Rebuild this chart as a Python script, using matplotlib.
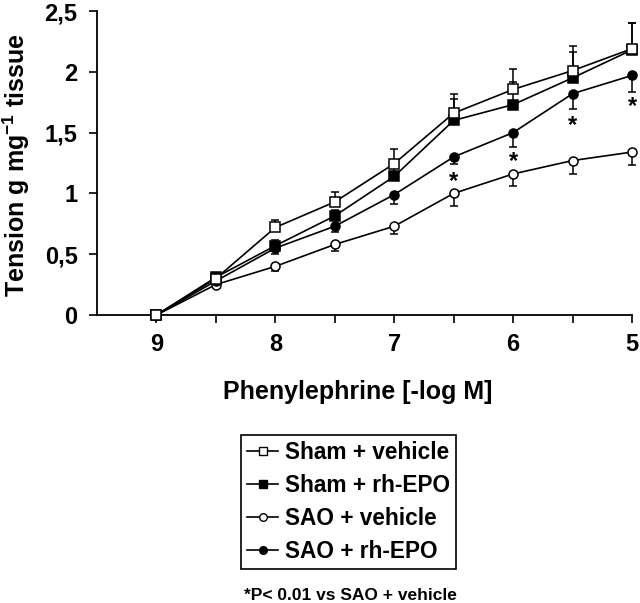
import matplotlib
matplotlib.use("Agg")
import matplotlib.pyplot as plt
from matplotlib.ticker import FixedLocator
from matplotlib.lines import Line2D

plt.rcParams['font.family'] = ['Liberation Sans', 'DejaVu Sans']
plt.rcParams['font.weight'] = 'bold'
plt.rcParams['mathtext.fontset'] = 'custom'
plt.rcParams['mathtext.rm'] = 'Liberation Sans:bold'
plt.rcParams['mathtext.bf'] = 'Liberation Sans:bold'
plt.rcParams['mathtext.default'] = 'rm'

# ---- data ----
conc = [9, 8.5, 8, 7.5, 7, 6.5, 6, 5.5, 5]
sham_veh = [0, 0.30, 0.72, 0.93, 1.245, 1.66, 1.855, 2.01, 2.19]
sham_veh_err = [0, 0.02, 0.065, 0.08, 0.12, 0.16, 0.17, 0.20, 0.21]
sham_epo = [0, 0.31, 0.57, 0.815, 1.14, 1.60, 1.73, 1.95, 2.18]
sham_epo_err = [0, 0.02, 0.05, 0.05, 0.07, 0.18, 0.185, 0.21, 0.22]
sao_veh = [0, 0.25, 0.40, 0.58, 0.73, 1.00, 1.16, 1.27, 1.34]
sao_veh_err = [0, 0.02, 0.035, 0.05, 0.06, 0.10, 0.10, 0.11, 0.11]
sao_epo = [0, 0.28, 0.55, 0.73, 0.99, 1.30, 1.50, 1.82, 1.97]
sao_epo_err = [0, 0.02, 0.05, 0.05, 0.08, 0.06, 0.12, 0.13, 0.14]
star_x = [6.5, 6, 5.5, 5]
star_y = [1.155, 1.32, 1.615, 1.77]

labels = ["Sham + vehicle", "Sham + rh-EPO", "SAO + vehicle", "SAO + rh-EPO"]
yticks = [0, 0.5, 1, 1.5, 2, 2.5]
yticklabels = ["0", "0,5", "1", "1,5", "2", "2,5"]
xticks_major = [9, 8, 7, 6, 5]
xticks_minor = [8.5, 7.5, 6.5, 5.5]

fig = plt.figure(figsize=(6.4, 6.03), dpi=100)
ax = fig.add_axes([97/640, 1 - 315/603, (632-97)/640, (315-11)/603])

lw = 1.2
common = dict(color='black', lw=lw, markeredgecolor='black', markeredgewidth=1.1,
              ms=6.5, capsize=3.2, elinewidth=1.1, capthick=1.1, clip_on=False)

zeros = [0]*len(conc)
ax.errorbar(conc, sao_veh, yerr=[sao_veh_err, zeros], marker='o',
            markerfacecolor='white', zorder=3, **common)
ax.errorbar(conc, sao_epo, yerr=[sao_epo_err, zeros], marker='o',
            markerfacecolor='black', zorder=4, **common)
ax.errorbar(conc, sham_epo, yerr=[zeros, sham_epo_err], marker='s',
            markerfacecolor='black', zorder=5, **common)
ax.errorbar(conc, sham_veh, yerr=[zeros, sham_veh_err], marker='s',
            markerfacecolor='white', zorder=6, **common)

fs_star = 17
for sx, sy in zip(star_x, star_y):
    ax.annotate('*', (sx, sy), xytext=(0, -0.57*fs_star), textcoords='offset points',
                ha='center', va='baseline', fontsize=fs_star, fontweight='bold')

ax.set_xlim(9.5, 5)
ax.set_ylim(0, 2.5)
ax.set_yticks(yticks)
ax.set_yticklabels(yticklabels)
ax.xaxis.set_major_locator(FixedLocator(xticks_major))
ax.xaxis.set_minor_locator(FixedLocator(xticks_minor))
ax.set_xticklabels([str(v) for v in xticks_major])

for s in ['top', 'right']:
    ax.spines[s].set_visible(False)
for s in ['left', 'bottom']:
    ax.spines[s].set_linewidth(1.3)

ax.tick_params(axis='both', which='both', direction='out', length=6, width=1.2,
               labelsize=17)
ax.tick_params(axis='y', pad=8)
ax.tick_params(axis='x', which='major', pad=7)

fig.text(358/640, 1 - 399/603, "Phenylephrine [-log M]", ha='center', va='baseline',
         fontsize=18, fontweight='bold')
fig.text(1/640, 1 - 165/603, r"Tension g mg$^{-1}$ tissue", rotation=90,
         ha='left', va='center', fontsize=18, fontweight='bold')

mk = ['s', 's', 'o', 'o']
fc = ['white', 'black', 'white', 'black']
handles = [Line2D([], [], color='black', lw=lw, marker=m, markerfacecolor=f,
                  markeredgecolor='black', markeredgewidth=1.0, ms=5.5)
           for m, f in zip(mk, fc)]
leg = fig.legend(handles=handles, labels=labels, loc='upper left',
                 bbox_to_anchor=(241/640, 1 - 435/603), bbox_transform=fig.transFigure,
                 borderaxespad=0, fancybox=False, edgecolor='black', framealpha=1,
                 prop={'size': 16.3, 'weight': 'bold'}, handlelength=1.4,
                 handletextpad=0.3, labelspacing=0.45, borderpad=0.25)
leg.get_frame().set_linewidth(1.2)

fig.text(350/640, 1 - 595/603, "*P< 0.01 vs SAO + vehicle", ha='center', va='center',
         fontsize=12.5, fontweight='bold')

fig.savefig("out.png", dpi=100)
